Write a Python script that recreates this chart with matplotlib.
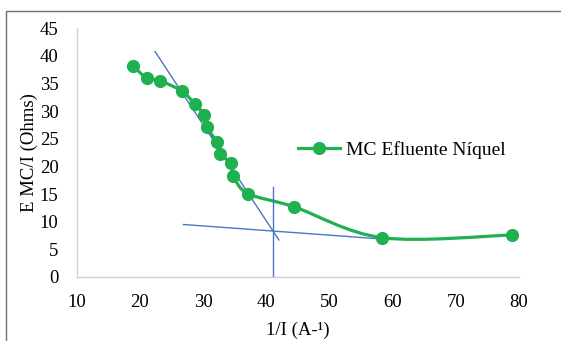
import numpy as np
import matplotlib
matplotlib.use("Agg")
import matplotlib.pyplot as plt
from matplotlib.path import Path
from matplotlib.patches import PathPatch, Rectangle

plt.rcParams['font.family'] = ['Liberation Serif', 'DejaVu Serif']

# data
inv_i = [18.9, 21.1, 23.2, 26.7, 28.7, 30.2, 30.6, 32.2, 32.7, 34.4, 34.8, 37.1, 44.4, 58.4, 78.9]
e_mc = [38.2, 36.0, 35.5, 33.6, 31.3, 29.3, 27.1, 24.4, 22.2, 20.6, 18.3, 15.1, 12.7, 7.1, 7.6]

# tangent construction lines
steep_x = [22.4, 42.0]
steep_y = [40.8, 6.7]
flat_x = [26.9, 58.0]
flat_y = [9.5, 6.9]
vert_x = [41.0, 41.0]
vert_y = [0, 16.2]

green = '#1fb04f'
blue = '#4a76c2'

fig = plt.figure(figsize=(5.61, 3.41), dpi=100)
ax = fig.add_axes([0.1367, 0.1877, 0.925 - 0.1367, 0.917 - 0.1877])

# outer border like the excel chart area
fig.patches.append(Rectangle((6 / 561, -0.1), 1.2, 1 - 11 / 341 + 0.1,
                             transform=fig.transFigure, fill=False,
                             edgecolor='#6f6f6f', linewidth=1.0))

# smooth line (excel style bezier through the points)
pts = np.column_stack([inv_i, e_mc])
verts = [pts[0]]
codes = [Path.MOVETO]
n = len(pts)
for i in range(n - 1):
    p0 = pts[max(i - 1, 0)]
    p1 = pts[i]
    p2 = pts[i + 1]
    p3 = pts[min(i + 2, n - 1)]
    c1 = p1 + (p2 - p0) / 6.0
    c2 = p2 - (p3 - p1) / 6.0
    verts += [c1, c2, p2]
    codes += [Path.CURVE4] * 3
ax.add_patch(PathPatch(Path(verts, codes), facecolor='none', edgecolor=green,
                       linewidth=2.3, zorder=3))

ax.plot(steep_x, steep_y, color=blue, linewidth=1.0, zorder=4)
ax.plot(flat_x, flat_y, color=blue, linewidth=1.0, zorder=4)
ax.plot(vert_x, vert_y, color=blue, linewidth=1.0, zorder=4)

ax.plot(inv_i, e_mc, linestyle='none', marker='o', markersize=8.5,
        color=green, zorder=5)
ax.plot([], [], color=green, linewidth=2.3, marker='o', markersize=8.5,
        label='MC Efluente Níquel')

ax.set_xlim(10, 80)
ax.set_ylim(0, 45)
ax.set_xticks(range(10, 81, 10))
ax.set_yticks(range(0, 46, 5))
ax.tick_params(length=0, labelsize=13.5)
ax.tick_params(axis='x', pad=12)
ax.tick_params(axis='y', pad=13)
for s in ['top', 'right']:
    ax.spines[s].set_visible(False)
for s in ['left', 'bottom']:
    ax.spines[s].set_color('#d0d0d0')
    ax.spines[s].set_linewidth(1.0)

ax.set_xlabel('1/I (A-¹)', fontsize=13.5, labelpad=8)
ax.set_ylabel('E MC/I (Ohms)', fontsize=13.5, labelpad=1)

ax.legend(loc='center left', bbox_to_anchor=(0.46, 0.51), frameon=False,
          fontsize=14, handlelength=2.2, handletextpad=0.3)

fig.savefig('out.png', dpi=100)
